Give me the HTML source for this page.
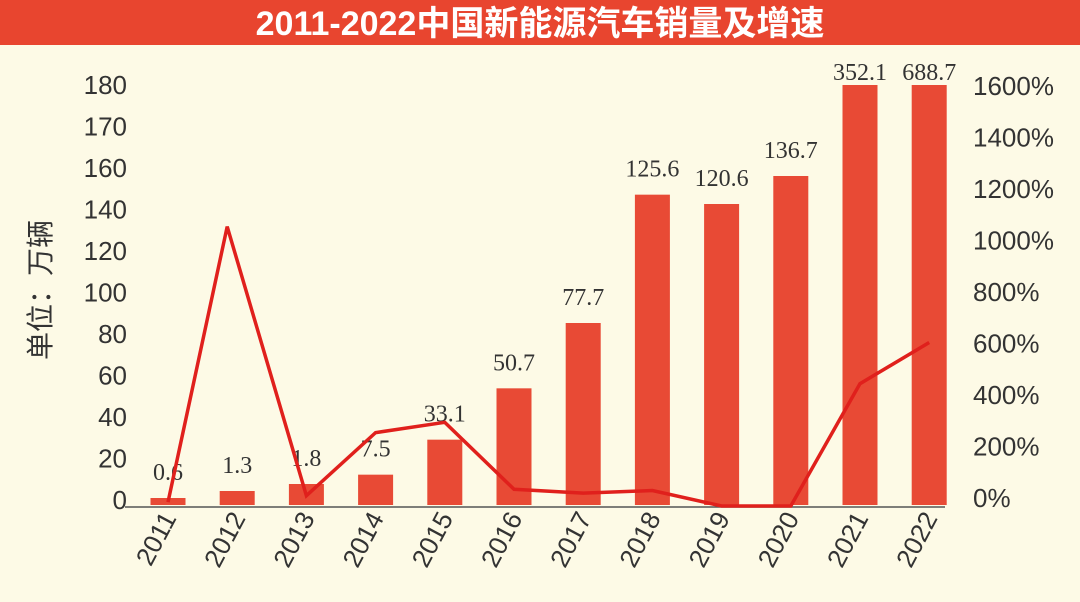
<!DOCTYPE html>
<html><head><meta charset="utf-8"><style>
body{margin:0;background:#fdfae6;}
svg{display:block;}
</style></head><body>
<svg width="1080" height="602" viewBox="0 0 1080 602">
<rect x="0" y="0" width="1080" height="602" fill="#fdfae6"/>
<rect x="0" y="0" width="1080" height="45" fill="#e8452f"/>
<text x="540" y="35" text-anchor="middle" fill="#fff" font-size="34" font-weight="bold" font-family="'Liberation Sans','Noto Sans CJK SC',sans-serif">2011-2022中国新能源汽车销量及增速</text>
<text transform="translate(50,290) rotate(-90)" text-anchor="middle" font-size="28" fill="#333" font-family="'Liberation Sans','Noto Sans CJK SC',sans-serif">单位：万辆</text>
<g id="plot"></g>
</svg>
<script>
const years=['2011','2012','2013','2014','2015','2016','2017','2018','2019','2020','2021','2022'];
const barHeights=[3,6,9,13,28,50,78,133,129,141,180,180];
const valueLabels=['0.6','1.3','1.8','7.5','33.1','50.7','77.7','125.6','120.6','136.7','352.1','688.7'];
const growth=[-20,1050,5,250,290,30,15,25,-35,-35,440,600];
const leftTicks=['0','20','40','60','80','100','120','140','160','170','180'];
const rightTicks=[0,200,400,600,800,1000,1200,1400,1600];
const NS='http://www.w3.org/2000/svg';
const g=document.getElementById('plot');
function yL(v){return 505-v*(420/180);}
function yTick(i){return 500-i*(415/(leftTicks.length-1));}
function yR(p){return 497-p*(412/1600);}
function xC(i){return 168+i*69.2;}
function mk(t,a,txt){const e=document.createElementNS(NS,t);for(const k in a)e.setAttribute(k,a[k]);if(txt!==undefined)e.textContent=txt;g.appendChild(e);return e;}
leftTicks.forEach((v,i)=>{const e=mk('text',{x:127,y:yTick(i)+9,'text-anchor':'end','font-size':26,fill:'#333','font-family':'Liberation Sans,sans-serif'},v);

});
rightTicks.forEach(p=>{const e=mk('text',{x:973,y:yR(p)+10,'font-size':26,fill:'#333','font-family':'Liberation Sans,sans-serif'},p+'%');

});
years.forEach((yr,i)=>{
const b=mk('rect',{x:xC(i)-17.5,y:yL(barHeights[i]),width:35,height:505-yL(barHeights[i]),fill:'#e84a35'});


const t=mk('text',{x:xC(i),y:(barHeights[i]>=180?80:yL(barHeights[i])-18),'text-anchor':'middle','font-size':24,fill:'#333','font-family':'Liberation Serif,serif'},valueLabels[i]);


const xl=mk('text',{transform:'translate('+(xC(i)+9)+',518) rotate(-62)','text-anchor':'end','font-size':26,fill:'#333','font-family':'Liberation Sans,sans-serif'},yr);


});
const ax=mk('line',{x1:125,y1:507,x2:945,y2:507,stroke:'#555','stroke-width':1.5});


const pts=growth.map((p,i)=>(xC(i)-(i==1?10:0))+','+yR(p)).join(' ');
const ln=mk('polyline',{points:pts,fill:'none',stroke:'#e0201c','stroke-width':3.5,'stroke-linejoin':'miter'});


</script>
</body></html>
